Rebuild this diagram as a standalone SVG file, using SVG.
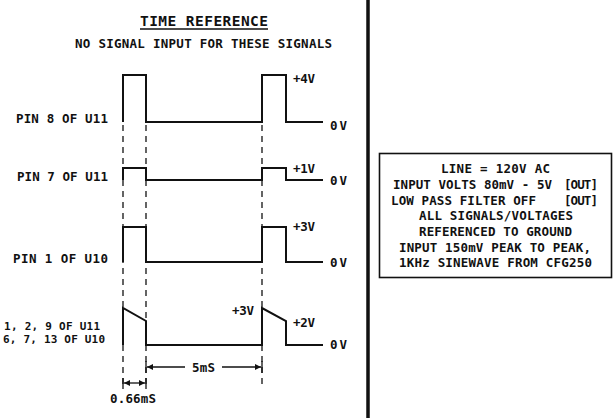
<svg xmlns="http://www.w3.org/2000/svg" width="616" height="418" viewBox="0 0 616 418">
<style>
text{font-family:"DejaVu Sans Mono","Liberation Mono",monospace;font-size:12.5px;font-weight:bold;fill:#111}
.t{font-size:14.5px}
.s{font-size:11px}
.wave{fill:none;stroke:#111;stroke-width:2;stroke-linejoin:miter}
.guide{stroke:#111;stroke-width:1.3;stroke-dasharray:6 5;fill:none}
.dim{stroke:#111;stroke-width:1.3;fill:none}
.box{fill:#fff;stroke:#111;stroke-width:1.6}
</style>
<defs>
<marker id="ah" viewBox="0 0 10 10" refX="10" refY="5" markerWidth="7" markerHeight="6" markerUnits="userSpaceOnUse" orient="auto-start-reverse">
<path d="M0,0 L10,5 L0,10 Z" fill="#111"/>
</marker>
</defs>
<rect width="616" height="418" fill="#fff"/>
<g id="title">
<text class="t" x="140" y="26" textLength="128" lengthAdjust="spacing">TIME REFERENCE</text>
<line x1="140" y1="29" x2="268" y2="29" stroke="#111" stroke-width="1.5"/>
<text x="75" y="48" textLength="257" lengthAdjust="spacing">NO SIGNAL INPUT FOR THESE SIGNALS</text>
</g>
<g id="connectors">
<line class="guide" x1="123" y1="125" x2="123" y2="389"/>
<line class="guide" x1="146" y1="125" x2="146" y2="389"/>
<line class="guide" x1="262" y1="125" x2="262" y2="389"/>
<line class="dim" x1="146" y1="361" x2="146" y2="373"/>
<line class="dim" x1="262" y1="361" x2="262" y2="373"/>
<line class="dim" x1="185" y1="367" x2="147" y2="367" marker-end="url(#ah)"/>
<line class="dim" x1="222" y1="367" x2="261" y2="367" marker-end="url(#ah)"/>
<line class="dim" x1="123" y1="378" x2="123" y2="389"/>
<line class="dim" x1="146" y1="378" x2="146" y2="389"/>
<line class="dim" x1="124" y1="383" x2="145" y2="383" marker-start="url(#ah)" marker-end="url(#ah)"/>
</g>
<g id="wave-pin8-u11">
<path class="wave" d="M123,122 V75 H146 V122 H262 V75 H286 V122 H323"/>
<text x="16" y="123" textLength="92" lengthAdjust="spacing">PIN 8 OF U11</text>
<text x="293" y="83" textLength="22" lengthAdjust="spacing">+4V</text>
<text x="330" y="130" textLength="17" lengthAdjust="spacing">0V</text>
</g>
<g id="wave-pin7-u11">
<path class="wave" d="M123,180 V168 H146 V180 H262 V168 H286 V180 H323"/>
<text x="17" y="181" textLength="91" lengthAdjust="spacing">PIN 7 OF U11</text>
<text x="293" y="172.5" textLength="22" lengthAdjust="spacing">+1V</text>
<text x="330" y="185" textLength="17" lengthAdjust="spacing">0V</text>
</g>
<g id="wave-pin1-u10">
<path class="wave" d="M123,262 V227 H146 V262 H262 V227 H286 V262 H323"/>
<text x="13" y="263" textLength="95" lengthAdjust="spacing">PIN 1 OF U10</text>
<text x="293" y="231" textLength="22" lengthAdjust="spacing">+3V</text>
<text x="330" y="266.5" textLength="17" lengthAdjust="spacing">0V</text>
</g>
<g id="wave-pins-u11-u10">
<path class="wave" d="M123,345 V308 L146,321 V345 H262 V308 L286,321 V345 H323"/>
<text class="s" x="4" y="329.5" textLength="96" lengthAdjust="spacing">1, 2, 9 OF U11</text>
<text class="s" x="3" y="343" textLength="102" lengthAdjust="spacing">6, 7, 13 OF U10</text>
<text x="232" y="315" textLength="22" lengthAdjust="spacing">+3V</text>
<text x="293" y="326.5" textLength="22" lengthAdjust="spacing">+2V</text>
<text x="330" y="349" textLength="17" lengthAdjust="spacing">0V</text>
</g>
<g id="dimensions">
<text x="192" y="371.5" textLength="23" lengthAdjust="spacing">5mS</text>
<text x="110" y="403" textLength="46" lengthAdjust="spacing">0.66mS</text>
</g>
<g id="divider">
<line x1="368" y1="0" x2="368" y2="418" stroke="#111" stroke-width="3.5"/>
</g>
<g id="conditions">
<rect class="box" x="379.5" y="153.5" width="232" height="124"/>
<text x="441" y="173" textLength="109" lengthAdjust="spacing">LINE = 120V AC</text>
<text x="393" y="189" textLength="159" lengthAdjust="spacing">INPUT VOLTS 80mV - 5V</text>
<text x="564" y="189" textLength="34" lengthAdjust="spacing">[OUT]</text>
<text x="391" y="205" textLength="145" lengthAdjust="spacing">LOW PASS FILTER OFF</text>
<text x="564" y="205" textLength="34" lengthAdjust="spacing">[OUT]</text>
<text x="419" y="220" textLength="154" lengthAdjust="spacing">ALL SIGNALS/VOLTAGES</text>
<text x="419" y="236" textLength="153" lengthAdjust="spacing">REFERENCED TO GROUND</text>
<text x="399" y="251.5" textLength="192" lengthAdjust="spacing">INPUT 150mV PEAK TO PEAK,</text>
<text x="399" y="267" textLength="193" lengthAdjust="spacing">1KHz SINEWAVE FROM CFG250</text>
</g>
</svg>
